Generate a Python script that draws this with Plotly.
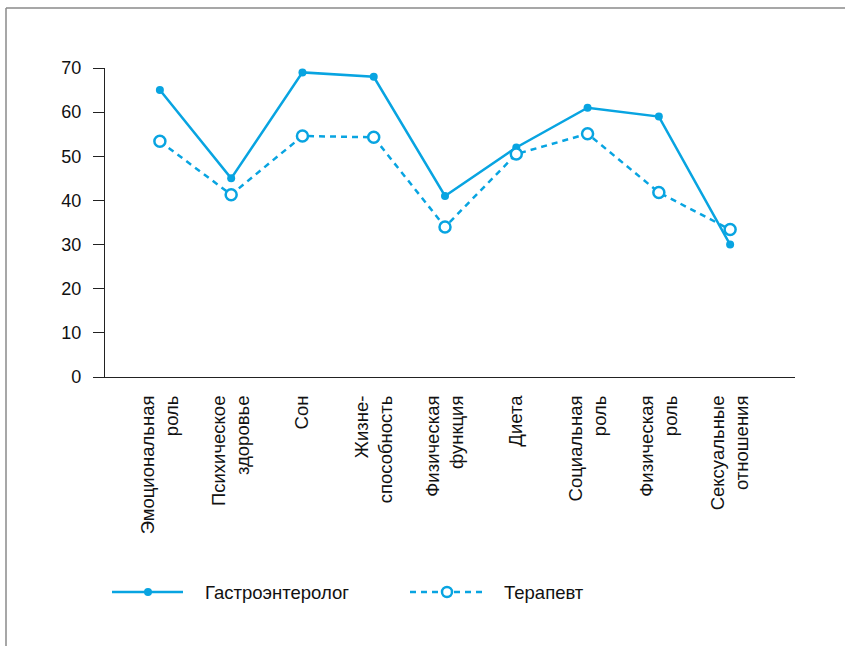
import plotly.graph_objects as go

categories = ["Эмоциональная<br>роль", "Психическое<br>здоровье", "Сон", "Жизне-<br>способность",
              "Физическая<br>функция", "Диета", "Социальная<br>роль", "Физическая<br>роль",
              "Сексуальные<br>отношения"]
gastro = [65, 45, 69, 68, 41, 52, 61, 59, 30]
therapist = [53.4, 41.3, 54.6, 54.3, 34, 50.5, 55.1, 41.8, 33.4]
series_names = ["Гастроэнтеролог", "Терапевт"]
y_ticks = [0, 10, 20, 30, 40, 50, 60, 70]

COLOR = "#08A4E1"
FONT = "Liberation Sans, Arial, sans-serif"

W, H = 845, 646
L, R, T, B = 105, 50, 68, 269
PW, PH = W - L - R, H - T - B

def px(x):
    return (x - L) / PW

def py(y):
    return (H - B - y) / PH

xs = list(range(len(categories)))

fig = go.Figure()
fig.add_trace(go.Scatter(
    x=xs, y=gastro, name=series_names[0], mode="lines+markers",
    line=dict(color=COLOR, width=2.5),
    marker=dict(symbol="circle", size=8, color=COLOR),
    showlegend=False,
))
fig.add_trace(go.Scatter(
    x=xs, y=therapist, name=series_names[1], mode="lines+markers",
    line=dict(color=COLOR, width=2.5, dash="6px,5px"),
    marker=dict(symbol="circle", size=11, color="white", line=dict(color=COLOR, width=2.5)),
    showlegend=False,
))

shapes = []
# frame
shapes.append(dict(type="line", xref="paper", yref="paper", x0=px(6), x1=px(845), y0=py(8), y1=py(8),
                   line=dict(color="#8a8a8a", width=1.5)))
shapes.append(dict(type="line", xref="paper", yref="paper", x0=px(6), x1=px(6), y0=py(8), y1=py(646),
                   line=dict(color="#8a8a8a", width=1.5)))
# legend samples
ly = 592
shapes.append(dict(type="line", xref="paper", yref="paper", x0=px(112), x1=px(183), y0=py(ly), y1=py(ly),
                   line=dict(color=COLOR, width=2.5)))
shapes.append(dict(type="circle", xref="paper", yref="paper", x0=px(148 - 4), x1=px(148 + 4),
                   y0=py(ly + 4), y1=py(ly - 4), fillcolor=COLOR, line=dict(color=COLOR, width=0)))
shapes.append(dict(type="line", xref="paper", yref="paper", x0=px(410), x1=px(482), y0=py(ly), y1=py(ly),
                   line=dict(color=COLOR, width=2.5, dash="6px,5px")))
shapes.append(dict(type="circle", xref="paper", yref="paper", x0=px(447 - 5), x1=px(447 + 5),
                   y0=py(ly + 5), y1=py(ly - 5), fillcolor="white", line=dict(color=COLOR, width=2.5)))

annotations = [
    dict(text=series_names[0], xref="paper", yref="paper", x=px(203), y=py(ly), xanchor="left",
         yanchor="middle", showarrow=False, font=dict(size=18.5, color="#111", family=FONT)),
    dict(text=series_names[1], xref="paper", yref="paper", x=px(502), y=py(ly), xanchor="left",
         yanchor="middle", showarrow=False, font=dict(size=18.5, color="#111", family=FONT)),
]

fig.update_layout(
    width=W, height=H,
    margin=dict(l=L, r=R, t=T, b=B),
    paper_bgcolor="white", plot_bgcolor="white",
    font=dict(family=FONT, size=18, color="#111"),
    shapes=shapes, annotations=annotations,
    showlegend=False,
)
fig.update_xaxes(
    range=[-0.77, 8.91], tickmode="array", tickvals=xs, ticktext=categories,
    tickangle=-90, showgrid=False, zeroline=False, showline=True, linecolor="#222", linewidth=1.3,
    ticks="", ticklabelstandoff=10, tickfont=dict(size=18.5, family=FONT, color="#111"),
)
fig.update_yaxes(
    range=[0, 70], tickmode="array", tickvals=y_ticks, showgrid=False, zeroline=False,
    showline=True, linecolor="#222", linewidth=1.3, ticks="outside", ticklen=11, tickwidth=1.3,
    tickcolor="#222", ticklabelstandoff=8, tickfont=dict(size=18, family=FONT, color="#111"),
)

fig.write_html("out.html", config={"displayModeBar": False},
               post_script="document.body.style.margin='0';document.body.style.overflow='hidden';")
